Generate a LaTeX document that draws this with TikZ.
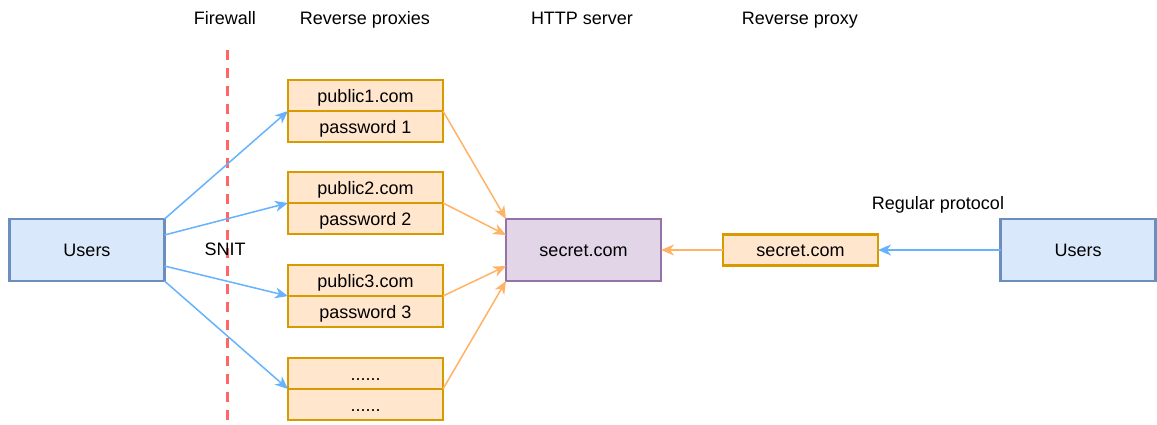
\documentclass[tikz,border=0pt]{standalone}
\usepackage{fontspec}
\setmainfont{Liberation Sans}
\usetikzlibrary{arrows.meta}
\definecolor{bluefill}{HTML}{DAE8FC}
\definecolor{bluestroke}{HTML}{6C8EBF}
\definecolor{orangefill}{HTML}{FFE6CC}
\definecolor{orangestroke}{HTML}{D79B00}
\definecolor{purplefill}{HTML}{E1D5E7}
\definecolor{purplestroke}{HTML}{9673A6}
\definecolor{bluearrow}{HTML}{66B2FF}
\definecolor{orangearrow}{HTML}{FFB366}
\definecolor{wallred}{HTML}{FF6666}
\tikzset{
  label text/.style={font=\fontsize{18}{21}\selectfont, text height=13pt, text depth=0pt},
  box/.style={rectangle, line width=2.6pt, outer sep=0pt, inner sep=0pt, label text},
  userbox/.style={box, draw=bluestroke, fill=bluefill, minimum width=155pt, minimum height=62pt},
  proxybox/.style={box, draw=orangestroke, fill=orangefill, minimum width=155pt, minimum height=31pt},
  serverbox/.style={box, draw=purplestroke, fill=purplefill, minimum width=155pt, minimum height=62pt},
  tip/.style={-{Stealth[length=13pt,width=11pt,inset=4pt]}},
  bluelink/.style={tip, draw=bluearrow, fill=bluearrow, line width=1.5pt},
  orangelink/.style={tip, draw=orangearrow, fill=orangearrow, line width=1.5pt},
  caption/.style={inner sep=0pt, label text},
}
\begin{document}
\begin{tikzpicture}[x=1pt, y=-1pt]
\useasboundingbox (0,0) rectangle (1157,424);

% column headings
\node[caption] (hFirewall) at (225,18) {Firewall};
\node[caption] (hProxies) at (365,18) {Reverse proxies};
\node[caption] (hServer) at (582,18) {HTTP server};
\node[caption] (hProxy) at (800,18) {Reverse proxy};

% firewall
\coordinate (fwTop) at (227,50);
\coordinate (fwBottom) at (227,421);
\draw[wallred, line width=3pt, dash pattern=on 10pt off 8pt] (fwTop) -- (fwBottom);

% clients
\node[userbox] (usersL) at (87,250) {Users};
\node[userbox] (usersR) at (1078,250) {Users};

% reverse proxies, each a public name over its password
\node[proxybox] (pub1) at (365.5,95.5) {public1.com};
\node[proxybox] (pw1) at (365.5,126.5) {password 1};
\node[proxybox] (pub2) at (365.5,187.5) {public2.com};
\node[proxybox] (pw2) at (365.5,218.5) {password 2};
\node[proxybox] (pub3) at (365.5,280.5) {public3.com};
\node[proxybox] (pw3) at (365.5,311.5) {password 3};
\node[proxybox] (pub4) at (365.5,373.5) {......};
\node[proxybox] (pw4) at (365.5,404.5) {......};

% server and its ordinary reverse proxy
\node[serverbox] (secret) at (583.5,250) {secret.com};
\node[proxybox] (secretProxy) at (800.5,250) {secret.com};

% labels
\node[caption] (snit) at (225,249) {SNIT};
\node[caption] (regular) at (938,203) {Regular protocol};

% users to reverse proxies
\draw[bluelink] (usersL.north east) -- (pub1.south west);
\draw[bluelink] ([yshift=15pt]usersL.east) -- (pub2.south west);
\draw[bluelink] ([yshift=-16pt]usersL.east) -- (pub3.south west);
\draw[bluelink] (usersL.south east) -- (pub4.south west);

% reverse proxies to server
\draw[orangelink] (pw1.north east) -- (secret.north west);
\draw[orangelink] (pw2.north east) -- ([yshift=15pt]secret.west);
\draw[orangelink] (pw3.north east) -- ([yshift=-16pt]secret.west);
\draw[orangelink] (pw4.north east) -- (secret.south west);

% regular path
\draw[bluelink] (usersR.west) -- (secretProxy.east);
\draw[orangelink] (secretProxy.west) -- (secret.east);
\end{tikzpicture}
\end{document}
